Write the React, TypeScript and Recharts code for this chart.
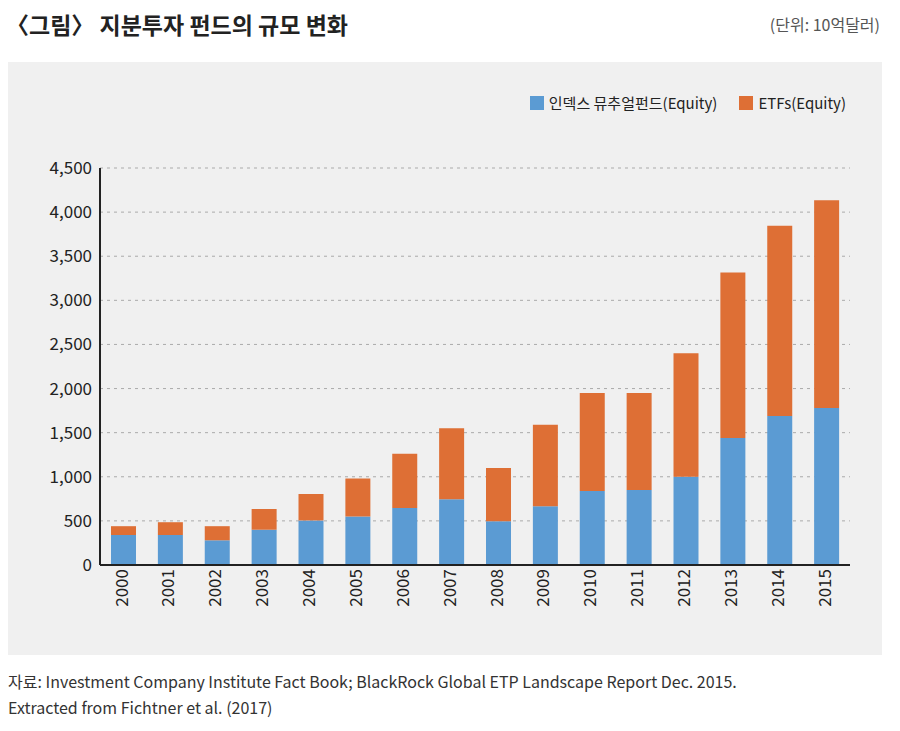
import React from "react";
import { BarChart, Bar, XAxis, YAxis, CartesianGrid, Legend } from "recharts";

const years = ["2000","2001","2002","2003","2004","2005","2006","2007","2008","2009","2010","2011","2012","2013","2014","2015"];
const indexFunds = [340,340,280,400,505,550,645,745,495,665,840,850,1000,1440,1690,1780];
const etfs = [100,145,160,235,300,430,615,805,605,925,1110,1100,1400,1875,2155,2355];
const yTicks = [0,500,1000,1500,2000,2500,3000,3500,4000,4500];
const seriesNames = ["인덱스 뮤추얼펀드(Equity)", "ETFs(Equity)"];
const seriesColors = ["#5b9bd3", "#de6f35"];

const data = years.map((y, i) => ({ year: y, idx: indexFunds[i], etf: etfs[i] }));
const font = "'Noto Sans CJK KR', 'Noto Sans', sans-serif";

const LegendContent = () => (
  <div style={{ display: "flex", justifyContent: "flex-end", gap: 22, fontSize: 15, fontFamily: font, color: "#222" }}>
    {seriesNames.map((n, i) => (
      <span key={n} style={{ display: "flex", alignItems: "center", gap: 5 }}>
        <span style={{ width: 14, height: 14, background: seriesColors[i], display: "inline-block" }} />{n}
      </span>
    ))}
  </div>
);

export default function App() {
  return (
    <div style={{ position: "relative", width: 900, height: 731, background: "#fff", fontFamily: font, margin: -8 }}>
      <div style={{ position: "absolute", left: 6, top: 7, fontSize: 23, fontWeight: 700, color: "#222" }}>〈그림〉 지분투자 펀드의 규모 변화</div>
      <div style={{ position: "absolute", right: 20, top: 12, fontSize: 16, color: "#555" }}>(단위: 10억달러)</div>
      <div style={{ position: "absolute", left: 8, top: 62, width: 874, height: 593, background: "#f0f0f0" }}>
        <BarChart width={874} height={593} data={data} margin={{ top: 85, right: 32, left: 32, bottom: 30 }} barSize={25}>
          <CartesianGrid vertical={false} stroke="#aaa" strokeDasharray="3 4" />
          <XAxis dataKey="year" angle={-90} textAnchor="end" dy={-4} dx={-8} height={60} interval={0}
            tick={{ fontSize: 17, fill: "#222", fontFamily: font }} tickLine={false} axisLine={{ stroke: "#222", strokeWidth: 2 }} />
          <YAxis domain={[0, 4500]} ticks={yTicks} tickFormatter={(v) => v.toLocaleString("en-US")} width={60}
            tick={{ fontSize: 17, fill: "#222", fontFamily: font }} tickLine={false} axisLine={{ stroke: "#222", strokeWidth: 2 }} />
          <Legend verticalAlign="top" content={LegendContent}
            wrapperStyle={{ top: 30, right: 36, left: "auto", width: 600 }} />
          <Bar dataKey="idx" name={seriesNames[0]} stackId="a" fill={seriesColors[0]} isAnimationActive={false} />
          <Bar dataKey="etf" name={seriesNames[1]} stackId="a" fill={seriesColors[1]} isAnimationActive={false} />
        </BarChart>
      </div>
      <div style={{ position: "absolute", left: 8, top: 668, fontSize: 16, color: "#333", lineHeight: "26px" }}>
        자료: Investment Company Institute Fact Book; BlackRock Global ETP Landscape Report Dec. 2015.<br />
        Extracted from Fichtner et al. (2017)
      </div>
    </div>
  );
}
